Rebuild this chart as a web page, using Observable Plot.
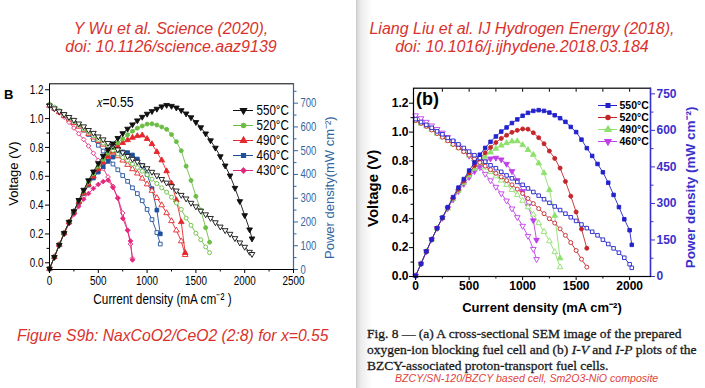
<!DOCTYPE html>
<html><head><meta charset="utf-8">
<script src="https://cdn.jsdelivr.net/npm/d3@7"></script>
<script src="https://cdn.jsdelivr.net/npm/@observablehq/plot@0.6"></script>
<style>
body{margin:0;background:#fff;}
#page{position:relative;width:705px;height:388px;overflow:hidden;background:#fff;font-family:"Liberation Sans",Arial,sans-serif;}
.abs{position:absolute;white-space:nowrap;}
.red{color:#d9322c;font-style:italic;}
.title{font-size:16px;line-height:18px;text-align:center;}
.cap{font-family:"Liberation Serif","Times New Roman",serif;font-size:13.5px;line-height:16px;color:#1a1a1a;-webkit-text-stroke:0.3px #1a1a1a;}
#sep{position:absolute;left:356px;top:0;width:16px;height:388px;background:linear-gradient(to right,#c9c9c9 0px,#dedede 2px,#ececec 5px,rgba(255,255,255,0) 16px);}
</style></head><body><div id="page">
<div id="sep"></div>
<div class="abs red title" style="left:0;width:342px;top:20px;">Y Wu et al. Science (2020),<br>doi: 10.1126/science.aaz9139</div>
<div class="abs red title" style="left:362px;width:320px;top:20px;">Liang Liu et al. IJ Hydrogen Energy (2018),<br>doi: 10.1016/j.ijhydene.2018.03.184</div>
<div class="abs red" style="left:17px;top:326px;font-size:17px;transform:scaleX(0.925);transform-origin:0 0;">Figure S9b: NaxCoO2/CeO2 (2:8) for x=0.55</div>
<div class="abs cap" style="left:367px;top:326px;">Fig. 8 — (a) A cross-sectional SEM image of the prepared</div>
<div class="abs cap" style="left:367px;top:342px;">oxygen-ion blocking fuel cell and (b) <i>I</i>-<i>V</i> and <i>I</i>-<i>P</i> plots of the</div>
<div class="abs cap" style="left:367px;top:358px;">BZCY-associated proton-transport fuel cells.</div>
<div class="abs red" style="left:395px;top:372px;font-size:11.5px;color:#e0433b;transform:scaleX(0.92);transform-origin:0 0;">BZCY/SN-120/BZCY based cell, Sm2O3-NiO composite</div>
<div id="leftChart" class="abs" style="left:0;top:70px;"></div>
<div id="rightChart" class="abs" style="left:355px;top:75px;"></div>
<div id="leftLegend" class="abs" style="left:233px;top:90px;"></div>
<div id="rightLegend" class="abs" style="left:598px;top:90px;"></div>
<div class="abs" style="left:4px;top:87px;font-weight:bold;font-size:13px;">B</div>
<div class="abs" style="left:97px;top:93px;font-size:15px;transform:scaleX(0.82);transform-origin:0 0;"><i style="font-family:'Liberation Serif',serif;">x</i>=0.55</div>
<div class="abs" style="left:416px;top:89px;font-weight:bold;font-size:18px;">(b)</div>
</div>
<script>
// ---------- LEFT chart data (Y Wu et al.) : current (mA cm-2), voltage (V), power (mW cm-2)
const curL550 = [0,50,100,150,200,250,300,350,400,450,500,550,600,650,700,750,800,850,900,950,1000,1050,1100,1150,1200,1250,1300,1350,1400,1450,1500,1550,1600,1650,1700,1750,1800,1850,1900,1950,2000,2050,2075];
const voltL550 = [1.09,1.07,1.05,1.03,1.01,0.99,0.965,0.945,0.92,0.90,0.875,0.855,0.83,0.81,0.785,0.765,0.74,0.72,0.70,0.675,0.655,0.63,0.605,0.58,0.555,0.53,0.50,0.47,0.445,0.415,0.39,0.36,0.335,0.31,0.28,0.25,0.225,0.20,0.17,0.14,0.11,0.075,0.06];
const powL550 = [3,52,103,153,200,245,292,335,375,412,447,478,505,530,553,573,592,610,627,642,655,666,676,686,692,688,681,670,656,640,620,598,572,543,512,476,437,395,343,287,228,168,130];

const curL520 = [0,50,100,150,200,250,300,350,400,450,500,550,600,650,700,750,800,850,900,950,1000,1050,1100,1150,1200,1250,1300,1350,1400,1450,1500,1550,1600,1640];
const voltL520 = [1.10,1.08,1.055,1.03,1.005,0.98,0.955,0.93,0.905,0.88,0.855,0.83,0.805,0.78,0.755,0.73,0.71,0.685,0.66,0.635,0.61,0.58,0.55,0.52,0.49,0.455,0.415,0.37,0.31,0.26,0.205,0.16,0.11,0.07];
const powL520 = [3,53,104,154,200,245,290,330,368,403,435,463,490,513,533,550,567,582,595,604,612,613,608,600,590,568,538,500,435,375,308,250,176,115];

const curL490 = [0,50,100,150,200,250,300,350,400,450,500,550,600,650,700,750,800,850,900,950,1000,1050,1100,1150,1200,1250,1300,1350,1390];
const voltL490 = [1.09,1.07,1.045,1.02,0.995,0.97,0.945,0.92,0.895,0.87,0.845,0.82,0.79,0.765,0.74,0.71,0.68,0.65,0.62,0.585,0.545,0.50,0.45,0.40,0.345,0.29,0.225,0.15,0.055];
const powL490 = [3,53,104,153,199,243,284,322,358,392,423,451,475,497,518,533,545,555,562,565,550,528,495,460,414,362,292,200,70];

const curL460 = [0,50,100,150,200,250,300,350,400,450,500,550,600,650,700,750,800,850,900,950,1000,1050,1100,1135];
const voltL460 = [1.09,1.07,1.05,1.025,1.0,0.975,0.95,0.92,0.89,0.855,0.815,0.775,0.73,0.685,0.645,0.605,0.565,0.52,0.48,0.43,0.37,0.30,0.21,0.13];
const powL460 = [3,53,104,153,199,242,283,320,355,385,410,433,455,473,488,495,492,482,465,438,400,340,250,150];

const curL430 = [0,50,100,150,200,250,300,350,400,450,500,550,600,650,700,750,800,830,850];
const voltL430 = [1.10,1.07,1.04,1.01,0.975,0.935,0.895,0.855,0.81,0.76,0.71,0.655,0.595,0.53,0.45,0.345,0.225,0.13,0.03];
const powL430 = [3,52,102,150,193,232,266,296,320,341,358,370,376,345,300,215,165,120,40];

// ---------- RIGHT chart data (Liang Liu et al.)
const curR550 = [0,50,100,150,200,250,300,350,400,450,500,550,600,650,700,750,800,850,900,950,1000,1050,1100,1150,1200,1250,1300,1350,1400,1450,1500,1550,1600,1650,1700,1750,1800,1850,1900,1950,2000,2020];
const voltR550 = [1.09,1.07,1.05,1.03,1.005,0.985,0.96,0.94,0.915,0.89,0.865,0.84,0.82,0.795,0.77,0.75,0.725,0.70,0.68,0.655,0.635,0.61,0.585,0.56,0.535,0.51,0.485,0.46,0.435,0.41,0.385,0.36,0.335,0.31,0.285,0.255,0.225,0.195,0.165,0.13,0.085,0.06];
const powR550 = [3,52,103,152,198,242,285,326,365,400,435,468,500,528,553,575,595,612,630,645,660,672,680,683,680,673,662,650,635,614,593,562,527,495,462,428,385,335,285,235,190,130];

const curR520 = [0,50,100,150,200,250,300,350,400,450,500,550,600,650,700,750,800,850,900,950,1000,1050,1100,1150,1200,1250,1300,1350,1400,1450,1500,1550,1600];
const voltR520 = [1.08,1.06,1.04,1.015,0.99,0.965,0.94,0.915,0.89,0.865,0.84,0.815,0.79,0.765,0.74,0.715,0.69,0.665,0.635,0.605,0.575,0.54,0.505,0.47,0.435,0.40,0.37,0.33,0.285,0.235,0.18,0.12,0.065];
const powR520 = [3,52,103,152,198,240,282,322,358,392,425,455,483,508,530,550,567,580,592,600,606,605,590,570,545,515,485,445,390,330,265,195,116];

const curR490 = [0,50,100,150,200,250,300,350,400,450,500,550,600,650,700,750,800,850,900,950,1000,1050,1100,1150,1200,1250,1300,1350];
const voltR490 = [1.08,1.06,1.04,1.015,0.99,0.965,0.94,0.915,0.89,0.865,0.84,0.81,0.785,0.755,0.725,0.695,0.665,0.635,0.60,0.565,0.525,0.48,0.43,0.37,0.31,0.245,0.17,0.065];
const powR490 = [3,52,103,152,198,240,280,318,353,385,415,443,470,492,510,525,538,548,555,556,540,520,500,465,425,355,250,75];

const curR460 = [0,50,100,150,200,250,300,350,400,450,500,550,600,650,700,750,800,850,900,950,1000,1050,1100,1130];
const voltR460 = [1.115,1.095,1.07,1.045,1.02,0.995,0.965,0.935,0.905,0.87,0.835,0.795,0.755,0.71,0.665,0.62,0.575,0.525,0.47,0.41,0.35,0.28,0.19,0.12];
const powR460 = [3,52,103,152,198,240,280,316,350,380,408,432,455,472,484,487,480,462,432,395,350,290,230,150];

// ---------- tick labels
const xTicksL = [0,500,1000,1500,2000,2500];
const xMinorL = [250,750,1250,1750,2250];
const vTicks = [0,0.2,0.4,0.6,0.8,1.0,1.2];
const vMinor = [0.1,0.3,0.5,0.7,0.9,1.1];
const pTicksL = [0,100,200,300,400,500,600,700];
const pMinorL = [50,150,250,350,450,550,650,750];
const xTicksR = [0,500,1000,1500,2000];
const xMinorR = [250,750,1250,1750];
const xTopR = [250,500,750,1000,1250,1500,1750,2000];
const pTicksR = [0,150,300,450,600,750];
const pMinorR = [75,225,375,525,675];

const SANS = '"Liberation Sans",Arial,sans-serif';

const leftSeries = [
  {temp:"550°C", cur:curL550, volt:voltL550, pow:powL550, color:"#111111", symbol:"triangle", rotate:180, r:2.1},
  {temp:"520°C", cur:curL520, volt:voltL520, pow:powL520, color:"#6cbd45", symbol:"circle", rotate:0, r:2.0},
  {temp:"490°C", cur:curL490, volt:voltL490, pow:powL490, color:"#e5282e", symbol:"triangle", rotate:0, r:2.1},
  {temp:"460°C", cur:curL460, volt:voltL460, pow:powL460, color:"#1d4f9c", symbol:"square", rotate:0, r:2.1},
  {temp:"430°C", cur:curL430, volt:voltL430, pow:powL430, color:"#e3287d", symbol:"diamond2", rotate:0, r:2.1}
];
const rightSeries = [
  {temp:"550°C", cur:curR550, volt:voltR550, pow:powR550, color:"#2222cc", symbol:"square", rotate:0, r:2.0},
  {temp:"520°C", cur:curR520, volt:voltR520, pow:powR520, color:"#c4262b", symbol:"circle", rotate:0, r:2.0},
  {temp:"490°C", cur:curR490, volt:voltR490, pow:powR490, color:"#8ee06e", symbol:"triangle", rotate:0, r:2.1},
  {temp:"460°C", cur:curR460, volt:voltR460, pow:powR460, color:"#c040e8", symbol:"triangle", rotate:180, r:2.1}
];

function rows(s){ return s.cur.map((c,i)=>({I:c, V:s.volt[i], P:s.pow[i]})); }
function seriesMarks(s, pToV){
  const d = rows(s);
  const common = {x:"I", symbol:s.symbol, rotate:s.rotate, r:s.r, stroke:s.color, strokeWidth:0.9};
  return [
    Plot.line(d, {x:"I", y:"V", stroke:s.color, strokeWidth:0.9}),
    Plot.dot(d, {...common, y:"V", fill:"white"}),
    Plot.line(d, {x:"I", y:dd=>pToV(dd.P), stroke:s.color, strokeWidth:0.9}),
    Plot.dot(d, {...common, y:dd=>pToV(dd.P), fill:s.color})
  ];
}
// horizontally condense the (non-rotated) texts of a Plot svg, keeping each text's anchor fixed
function squeeze(svg, k){
  svg.querySelectorAll("text").forEach(t => {
    const tr = t.getAttribute("transform") || "";
    if (tr.includes("rotate")) return;
    const x = +(t.getAttribute("x") || 0);
    t.setAttribute("transform", `${tr} translate(${x},0) scale(${k},1) translate(${-x},0)`);
  });
  return svg;
}
const centered = {textAnchor:"middle", lineAnchor:"middle"};

// ---------- LEFT chart
{
  const vMin = -0.0465, vMax = 1.2413, pMax = 781.6;
  const pToV = p => vMin + p*(vMax - vMin)/pMax;
  const vToP = v => Math.round((v - vMin)*pMax/(vMax - vMin));
  const axisBlue = "#3466a0";
  const txt = {fontFamily:SANS, fontSize:13};
  const chart = Plot.plot({
    width:355, height:240,
    marginLeft:49, marginRight:62, marginTop:13.3, marginBottom:41,
    x:{domain:[0,2500]},
    y:{domain:[vMin,vMax]},
    style:{fontFamily:SANS, fontSize:"13px", background:"transparent", color:"black", overflow:"visible"},
    marks:[
      ...[...leftSeries].reverse().flatMap(s => seriesMarks(s, pToV)),
      Plot.frame({stroke:"black", strokeWidth:1}),
      Plot.ruleX([2500], {stroke:axisBlue, strokeWidth:1.2}),
      Plot.axisX(xTicksL, {anchor:"bottom", tickSize:4, tickPadding:2.5, tickFormat:d3.format("d"), label:null, ...txt}),
      Plot.axisX(xMinorL, {anchor:"bottom", tickSize:2.5, tickFormat:()=>"", label:null}),
      Plot.axisY(vTicks, {anchor:"left", tickSize:4, tickPadding:2, tickFormat:d3.format(".1f"), label:null, ...txt}),
      Plot.axisY(vMinor, {anchor:"left", tickSize:2.5, tickFormat:()=>"", label:null}),
      Plot.axisY(pTicksL.map(pToV), {anchor:"right", tickSize:4, tickPadding:3, tickFormat:vToP, label:null, stroke:axisBlue, fill:axisBlue, fontFamily:SANS, fontSize:12.5}),
      Plot.axisY(pMinorL.map(pToV), {anchor:"right", tickSize:2.5, tickFormat:()=>"", label:null, stroke:axisBlue}),
      Plot.text(["Voltage (V)"], {frameAnchor:"left", ...centered, rotate:-90, dx:-36, dy:-3, fontFamily:SANS, fontSize:13, fill:"black"}),
      Plot.text(["Power density(mW cm⁻²)"], {frameAnchor:"right", ...centered, rotate:-90, dx:36, dy:11, fontFamily:SANS, fontSize:13, fill:axisBlue}),
      Plot.text(["Current density (mA cm⁻² )"], {frameAnchor:"bottom", ...centered, dx:-9, dy:29.5, fontFamily:SANS, fontSize:15.5, fill:"black"})
    ]
  });
  document.getElementById("leftChart").append(squeeze(chart, 0.76));
}

// ---------- RIGHT chart
{
  const vMax = 1.304, pPerV = 592.9;
  const pToV = p => p / pPerV;
  const vToP = v => Math.round(v * pPerV);
  const axisBlue = "#3a30cc";
  const txt = {fontFamily:SANS, fontSize:12, fontWeight:"bold"};
  const chart = Plot.plot({
    width:350, height:240,
    marginLeft:58, marginRight:55, marginTop:12.7, marginBottom:39,
    x:{domain:[-20,2195]},
    y:{domain:[0,vMax]},
    style:{fontFamily:SANS, fontSize:"12px", background:"transparent", color:"black", overflow:"visible"},
    marks:[
      ...[...rightSeries].reverse().flatMap(s => seriesMarks(s, pToV)),
      Plot.frame({stroke:"black", strokeWidth:1.2}),
      Plot.ruleX([2195], {stroke:axisBlue, strokeWidth:1.4}),
      Plot.axisX(xTicksR, {anchor:"bottom", tickSize:4, tickPadding:1, tickFormat:d3.format("d"), label:null, ...txt}),
      Plot.axisX(xMinorR, {anchor:"bottom", tickSize:2.5, tickFormat:()=>"", label:null}),
      Plot.axisX(xTopR, {anchor:"top", tickSize:-3, tickFormat:()=>"", label:null}),
      Plot.axisY(vTicks, {anchor:"left", tickSize:4, tickPadding:1, tickFormat:d3.format(".1f"), label:null, ...txt}),
      Plot.axisY(vMinor, {anchor:"left", tickSize:2.5, tickFormat:()=>"", label:null}),
      Plot.axisY(pTicksR.map(pToV), {anchor:"right", tickSize:4, tickPadding:2, tickFormat:vToP, label:null, stroke:axisBlue, fill:axisBlue, ...txt}),
      Plot.axisY(pMinorR.map(pToV), {anchor:"right", tickSize:2.5, tickFormat:()=>"", label:null, stroke:axisBlue}),
      Plot.text(["Voltage (V)"], {frameAnchor:"left", ...centered, rotate:-90, dx:-40, dy:6, fontFamily:SANS, fontSize:15, fontWeight:"bold", fill:"black"}),
      Plot.text(["Power density (mW cm⁻²)"], {frameAnchor:"right", ...centered, rotate:-90, dx:40, dy:5, fontFamily:SANS, fontSize:13.5, fontWeight:"bold", fill:axisBlue}),
      Plot.text(["Current density (mA cm⁻²)"], {frameAnchor:"bottom", ...centered, dx:10, dy:31, fontFamily:SANS, fontSize:13, fontWeight:"bold", fill:"black"})
    ]
  });
  document.getElementById("rightChart").append(chart);
}

// ---------- legends
function legendPlot(series, o){
  const temps = series.map(s => s.temp);
  return Plot.plot({
    width:o.width, height:o.height, margin:0,
    x:{domain:[0,1], range:[0,o.lineLen], axis:null},
    y:{type:"point", domain:temps, range:[o.top,o.bottom], axis:null},
    style:{background:"transparent", overflow:"visible"},
    marks: series.flatMap(s => [
      Plot.ruleY([s.temp], {y:d=>d, x1:0, x2:1, stroke:s.color, strokeWidth:1}),
      Plot.dot([s.temp], {x:0.5, y:d=>d, symbol:s.symbol, rotate:s.rotate, r:s.r, fill:s.color, stroke:s.color}),
      Plot.text([s.temp], {x:1, y:d=>d, text:d=>d, dx:o.dx, textAnchor:"start", fontFamily:SANS, fontSize:o.fontSize, fontWeight:o.fontWeight, fill:"black"})
    ])
  });
}
document.getElementById("leftLegend").append(squeeze(legendPlot(leftSeries, {width:75, height:100, lineLen:20, top:11, bottom:89, dx:3, fontSize:14.5, fontWeight:"normal"}), 0.8));
document.getElementById("rightLegend").append(legendPlot(rightSeries, {width:60, height:70, lineLen:19, top:8, bottom:57, dx:2, fontSize:10.5, fontWeight:"bold"}));
</script>
</body></html>
